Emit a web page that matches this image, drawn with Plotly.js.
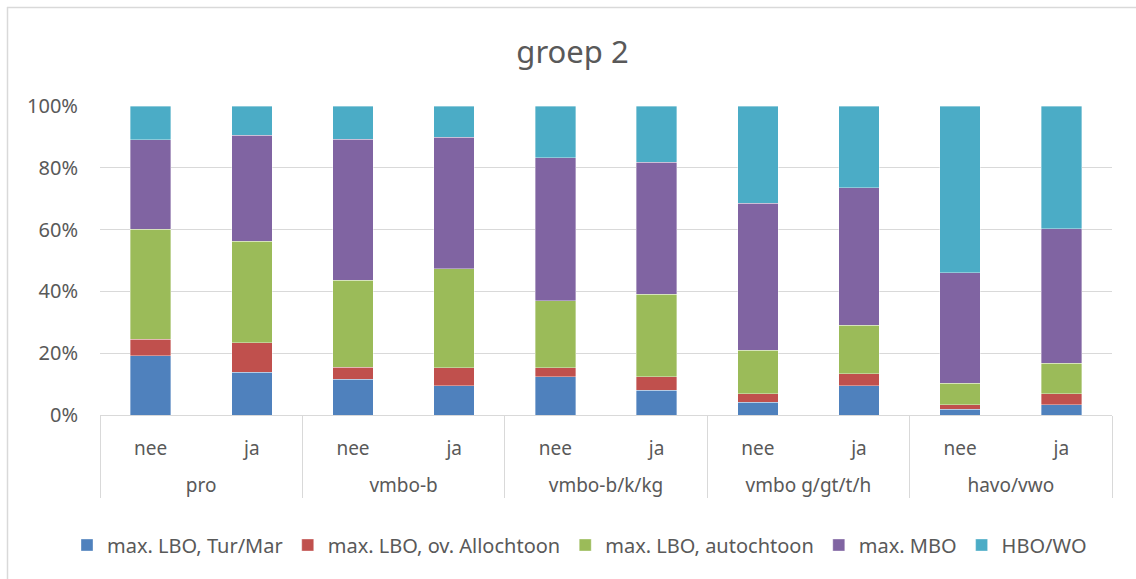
<!DOCTYPE html>
<html>
<head>
<meta charset="utf-8">
<script src="https://cdn.plot.ly/plotly-3.0.1.min.js"></script>
<style>
html,body{margin:0;padding:0;background:#fff;overflow:hidden;}
#chart{width:1136px;height:579px;}
</style>
</head>
<body>
<div id="chart"></div>
<script>
const groups = ["pro","pro","vmbo-b","vmbo-b","vmbo-b/k/kg","vmbo-b/k/kg","vmbo g/gt/t/h","vmbo g/gt/t/h","havo/vwo","havo/vwo"];
const answers = ["nee","ja","nee","ja","nee","ja","nee","ja","nee","ja"];
const seriesNames = ["max. LBO, Tur/Mar","max. LBO, ov. Allochtoon","max. LBO, autochtoon","max. MBO","HBO/WO"];
const lboTurMar = [19.1,13.8,11.6,9.5,12.3,8.0,4.2,9.4,1.9,3.3];
const lboOvAllochtoon = [5.4,9.6,3.9,5.8,3.0,4.3,2.7,4.0,1.4,3.6];
const lboAutochtoon = [35.6,32.9,28.1,32.1,21.6,26.8,14.1,15.6,6.9,9.9];
const maxMBO = [28.9,34.2,45.6,42.5,46.3,42.7,47.6,44.5,35.8,43.5];
const hboWO = [11.0,9.5,10.8,10.1,16.8,18.2,31.4,26.5,54.0,39.7];
const yTicks = [0,20,40,60,80,100];
const yTickText = ["0%","20%","40%","60%","80%","100%"];

const values = [lboTurMar,lboOvAllochtoon,lboAutochtoon,maxMBO,hboWO];
const colors = ["#4F81BD","#C0504D","#9BBB59","#8064A2","#4BACC6"];
const font = "'Noto Sans', 'Open Sans', sans-serif";

// a leading line break only adds vertical room between the two label rows
const groupLabels = groups.map(g => "<br>" + g);

const traces = values.map((v,i)=>({
  type:"bar",
  name:seriesNames[i],
  x:[groupLabels,answers],
  y:v,
  marker:{color:colors[i], line:{color:"rgba(255,255,255,0.6)", width:0.6}},
  hoverinfo:"none"
}));

const W=1136,H=579,L=100,R=24,T=106,B=164;
const pw=W-L-R, ph=H-T-B;
const px=(x)=> (x-L)/pw, py=(y)=> (H-B-y)/ph;

const layout = {
  width:W, height:H,
  margin:{l:L,r:R,t:T,b:B},
  paper_bgcolor:"#fff", plot_bgcolor:"#fff",
  barmode:"stack",
  bargap:0.6,
  font:{family:font, color:"#595959", size:18},
  title:{text:"groep 2", font:{family:font, size:31, color:"#595959"}, x:0.504, xanchor:"center", y:1-52/H, yanchor:"middle"},
  xaxis:{
    type:"multicategory",
    showgrid:false,
    showline:true, linecolor:"#d9d9d9", linewidth:1,
    showdividers:true, dividercolor:"#d9d9d9", dividerwidth:1,
    ticks:"", ticklabelstandoff:16,
    tickfont:{family:font, size:19, color:"#595959"},
    zeroline:false
  },
  yaxis:{
    range:[0,100],
    tickvals:yTicks, ticktext:yTickText,
    showgrid:true, gridcolor:"#d9d9d9", gridwidth:1,
    zeroline:false, showline:false,
    ticks:"", ticklabelstandoff:21,
    tickfont:{family:font, size:20, color:"#595959"}
  },
  showlegend:true,
  legend:{orientation:"h", x:px(67), xanchor:"left", y:py(545), yanchor:"middle",
    font:{family:font, size:20, color:"#595959"}, traceorder:"normal"},
  shapes:[
    {type:"line", xref:"paper", yref:"paper", x0:px(7.5), x1:px(7.5), y0:py(7), y1:py(600), line:{color:"#d9d9d9", width:1.5}},
    {type:"line", xref:"paper", yref:"paper", x0:px(7), x1:px(1200), y0:py(7.5), y1:py(7.5), line:{color:"#d9d9d9", width:1.5}}
  ]
};

Plotly.newPlot("chart", traces, layout, {displayModeBar:false, staticPlot:true});
</script>
</body>
</html>
